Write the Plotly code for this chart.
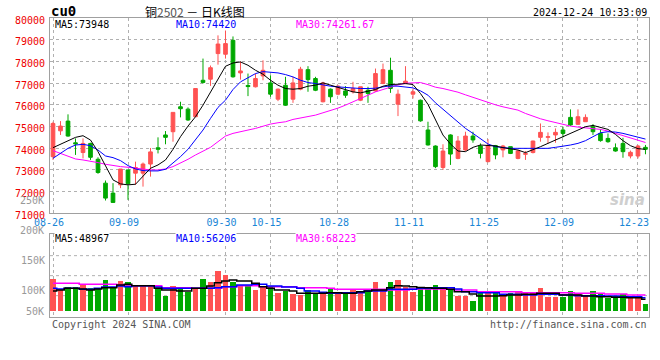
import pandas as pd
import plotly.graph_objects as go

# ---------------- data ----------------
HOLIDAYS = ["2024-09-16", "2024-09-17", "2024-10-01", "2024-10-02", "2024-10-03",
            "2024-10-04", "2024-10-07"]
dates = [d.strftime("%Y-%m-%d") for d in pd.bdate_range("2024-08-26", "2024-12-24")
         if d.strftime("%Y-%m-%d") not in HOLIDAYS]

OPEN = [73610, 74800, 75250, 74250, 73800, 74220, 73490, 72390, 71930, 72310,
        73000, 72850, 72850, 73270, 74020, 74610, 74760, 75910, 75800, 75450,
        77130, 77180, 78360, 78330, 78970, 77470, 76890, 76830, 77330, 77010,
        76260, 76900, 76260, 76720, 77620, 77210, 76140, 76720, 76490, 76640,
        76600, 76210, 76670, 76640, 76980, 77590, 76030, 76980, 76490, 76210,
        74840, 74100, 73110, 74610, 73530, 73920, 74560, 74100, 73380, 74120,
        73920, 74070, 73530, 73720, 73800, 74500, 74500, 74610, 74840, 75420,
        75100, 75220, 74990, 74680, 74450, 74020, 74220, 73640, 73640, 74040]
HIGH = [75220, 75250, 75560, 74450, 74450, 74250, 73580, 72510, 72390, 73040,
        73000, 73380, 73340, 74010, 74500, 74790, 75650, 76140, 75880, 76750,
        78130, 77810, 79200, 79460, 79150, 78000, 77440, 77440, 78050, 77360,
        76750, 77290, 77290, 77750, 77780, 77290, 77060, 76750, 76900, 76860,
        77060, 76830, 76830, 77670, 77900, 78170, 76700, 77780, 76750, 76240,
        75220, 74130, 74180, 74640, 74560, 74760, 74760, 74220, 74420, 74150,
        74150, 74070, 73920, 73870, 74350, 75140, 74730, 74910, 74990, 75790,
        75790, 75560, 75110, 74870, 74680, 74220, 74480, 73890, 74150, 74150]
LOW = [73460, 74610, 74530, 73690, 73530, 73460, 72820, 71590, 71500, 72160,
       71620, 72310, 72230, 72690, 73760, 74180, 74300, 75420, 75260, 75450,
       76980, 76870, 77850, 78130, 77250, 77160, 76400, 76800, 77130, 76370,
       76170, 75950, 76090, 76670, 76600, 76630, 76110, 76090, 76440, 76320,
       76520, 76170, 76090, 76600, 76950, 76550, 75480, 76950, 76290, 75220,
       74120, 73080, 73000, 73230, 73490, 73870, 74250, 73530, 73350, 73490,
       73580, 73730, 73490, 73460, 73760, 74300, 74220, 74250, 74500, 75020,
       75070, 75220, 74610, 74300, 74250, 73840, 73560, 73530, 73530, 73720]
CLOSE = [75140, 75020, 74560, 74200, 74220, 73580, 72880, 71700, 71500, 73040,
         72360, 73110, 73270, 73830, 73950, 74500, 75650, 75820, 75300, 76750,
         77030, 77710, 78800, 78820, 77290, 77560, 76840, 77210, 77590, 76490,
         76720, 75980, 77010, 77640, 77160, 76670, 77010, 76370, 76860, 76440,
         76750, 76830, 76520, 77440, 77620, 76750, 76490, 77090, 76600, 75260,
         74150, 73150, 73870, 73730, 74330, 74560, 74380, 73760, 74120, 73690,
         74100, 73760, 73870, 73750, 74330, 74730, 74530, 74730, 74680, 75070,
         75450, 75420, 74760, 74350, 74300, 73870, 73840, 73810, 74100, 73950]

MA5 = [74024, 74193, 74346, 74499, 74576, 74376, 73840, 73152, 72539, 72355,
       72310, 72340, 72692, 73075, 73228, 73458, 73948, 74530, 75019, 75448,
       75984, 76596, 77180, 77775, 77928, 77974, 77821, 77592, 77408, 77132,
       76903, 76750, 76719, 76750, 76857, 76903, 77010, 76903, 76780, 76673,
       76596, 76550, 76627, 76704, 76857, 76933, 76948, 76979, 76933, 76520,
       76020, 75295, 74606, 74193, 73871, 73840, 74040, 74147, 74132, 74101,
       74024, 73979, 73917, 73795, 73917, 74070, 74223, 74376, 74530, 74683,
       74836, 74989, 75050, 74958, 74867, 74637, 74346, 74116, 73979, 73948]
MA10 = [73534, 73764, 73994, 74147, 74177, 74116, 73917, 73642, 73565, 73427,
        73198, 73044, 72968, 72953, 72953, 73029, 73305, 73611, 73948, 74376,
        74836, 75372, 75880, 76214, 76704, 77056, 77255, 77438, 77530, 77515,
        77469, 77392, 77285, 77132, 77025, 76979, 76903, 76857, 76826, 76796,
        76765, 76750, 76750, 76765, 76826, 76872, 76857, 76826, 76780, 76642,
        76443, 76091, 75785, 75479, 75173, 74912, 74683, 74438, 74193, 74070,
        74024, 73994, 73994, 73994, 73994, 73994, 73994, 74040, 74086, 74147,
        74223, 74346, 74530, 74713, 74759, 74744, 74683, 74606, 74530, 74420]
MA30 = [73887, 73764, 73611, 73504, 73458, 73412, 73335, 73259, 73198, 73152,
        73121, 73075, 73029, 72998, 72998, 73044, 73152, 73305, 73488, 73687,
        73871, 74040, 74300, 74560, 74683, 74774, 74836, 74912, 75019, 75111,
        75173, 75218, 75326, 75387, 75448, 75525, 75632, 75724, 75846, 75984,
        76137, 76260, 76443, 76596, 76704, 76826, 76918, 76994, 77025, 77025,
        76930, 76811, 76750, 76673, 76581, 76459, 76336, 76214, 76122, 76000,
        75907, 75816, 75754, 75601, 75463, 75356, 75264, 75173, 75096, 75019,
        74973, 74943, 74912, 74867, 74790, 74683, 74560, 74453, 74376, 74262]

VOLUME = [119200, 100800, 105800, 105800, 108600, 103600, 103600, 117500, 104700, 115800,
          113600, 108000, 108000, 108000, 102500, 90800, 106900, 103600, 98000, 103600,
          119200, 113600, 132500, 125800, 113600, 106900, 106900, 100800, 106900, 106900,
          95800, 99200, 93600, 92500, 100300, 94200, 97000, 102500, 95300, 95300,
          100800, 98000, 99200, 114700, 100800, 114700, 117500, 106400, 98000, 106400,
          106400, 109200, 104700, 100800, 91400, 91400, 82500, 95300, 98000, 95300,
          94200, 95300, 98000, 98000, 96400, 104700, 89700, 89700, 89700, 99200,
          94700, 90800, 99200, 93600, 88000, 91400, 93600, 89700, 87000, 78000]
VMA5 = [99200, 100800, 103600, 103600, 102500, 100800, 102500, 104700, 104700, 109200,
        110300, 108000, 108000, 108000, 103600, 100800, 100800, 99200, 99200, 103600,
        103600, 107500, 113000, 115800, 117500, 115800, 115800, 112000, 106400, 103600,
        100800, 100800, 99200, 95300, 95300, 95300, 95300, 96400, 96400, 95300,
        95300, 98000, 99200, 100800, 100800, 104700, 108000, 107500, 106400, 105200,
        104700, 103600, 103600, 101900, 98000, 98000, 94200, 90800, 90800, 90800,
        91400, 92500, 92500, 93600, 93600, 95300, 95300, 95300, 92500, 92500,
        92500, 90800, 90800, 89700, 89700, 88600, 88600, 88000, 88000, 85300]
VMA10 = [103600, 102500, 103600, 103600, 101900, 101900, 103600, 105800, 105800, 107500,
         106400, 108000, 108000, 108000, 105800, 103600, 103600, 103600, 103600, 103600,
         103600, 103600, 104700, 106400, 106400, 109200, 109200, 110300, 110300, 107500,
         107500, 105800, 105800, 103600, 99200, 99200, 96900, 95300, 95300, 96400,
         96400, 96400, 99200, 99200, 99200, 101900, 101900, 101900, 101900, 103600,
         103600, 104700, 104700, 104700, 102500, 98000, 98000, 96400, 96400, 96400,
         93600, 93600, 93600, 92500, 92500, 93600, 93600, 93600, 92500, 92500,
         91400, 91400, 91400, 91400, 90800, 90800, 89700, 89700, 89700, 88000]
VMA30 = [112000, 112000, 112000, 112000, 110300, 110300, 110300, 110300, 110300, 109200,
         109200, 108000, 108000, 108000, 108000, 104700, 104700, 104700, 104700, 103600,
         103600, 103600, 103600, 106400, 106400, 108000, 108000, 108000, 106400, 106400,
         106400, 106400, 106400, 104700, 104700, 104700, 104700, 103600, 101900, 101900,
         101900, 101900, 101900, 101900, 101900, 100800, 100800, 100800, 102500, 102500,
         102500, 102500, 102500, 102500, 100800, 100800, 100800, 98000, 98000, 98000,
         98000, 98000, 98000, 96400, 96400, 96400, 96400, 96400, 96400, 96400,
         95300, 95300, 95300, 95300, 94200, 94200, 94200, 92500, 92500, 92500]

TICK_DATES = ["2024-08-26", "2024-09-09", "2024-09-30", "2024-10-15", "2024-10-28",
              "2024-11-11", "2024-11-25", "2024-12-09", "2024-12-23"]
TICK_TEXT = [d[5:] for d in TICK_DATES]
PRICE_TICKS = list(range(71000, 80001, 1000))
VOL_TICKS = [100000, 150000]
VOL_TICK_TEXT = ["100K", "150K"]
VOL_EXTRA_TICKS = [250000, 200000]
VOL_EXTRA_TEXT = ["250K", "200K"]
VOL_BASE = 65800
VOL_RANGE = [55830, 194170]

MA_LABELS = ["MA5:73948", "MA10:74420", "MA30:74261.67"]
VMA_LABELS = ["MA5:48967", "MA10:56206", "MA30:68223"]

# ---------------- style ----------------
RED = "#ff5252"
GREEN = "#00a800"
GRID = "#b0b0b0"
BORDER = "#a0a0a0"
MONO = "DejaVu Sans Mono"
MA_COLORS = ["#000000", "#0000ff", "#ff00ff"]

W, H = 660, 360
L, R, T, B = 50, 649, 18, 317
VOL_TOP = 234


def px(x):
    return (x - L) / (R - L)


def py(y):
    return (B - y) / (B - T)


fig = go.Figure()

fig.add_trace(go.Candlestick(
    x=dates, open=OPEN, high=HIGH, low=LOW, close=CLOSE,
    increasing=dict(line=dict(color=RED, width=1), fillcolor=RED),
    decreasing=dict(line=dict(color=GREEN, width=1), fillcolor=GREEN),
    whiskerwidth=0, xaxis="x", yaxis="y", showlegend=False, hoverinfo="skip"))

for vals, col in zip([MA30, MA10, MA5], [MA_COLORS[2], MA_COLORS[1], MA_COLORS[0]]):
    fig.add_trace(go.Scatter(x=dates, y=vals, mode="lines", line=dict(color=col, width=1),
                             xaxis="x", yaxis="y", showlegend=False, hoverinfo="skip"))

vol_colors = [RED if c >= o else GREEN for o, c in zip(OPEN, CLOSE)]
fig.add_trace(go.Bar(x=dates, y=[v - VOL_BASE for v in VOLUME], base=VOL_BASE,
                     marker=dict(color=vol_colors, line=dict(width=0)), width=0.76,
                     xaxis="x2", yaxis="y2", showlegend=False, hoverinfo="skip"))

for vals, col in zip([VMA30, VMA10, VMA5], [MA_COLORS[2], MA_COLORS[1], MA_COLORS[0]]):
    fig.add_trace(go.Scatter(x=dates, y=vals, mode="lines", line=dict(color=col, width=1.5, shape="hvh"),
                             xaxis="x2", yaxis="y2", showlegend=False, hoverinfo="skip"))

xr = [-0.4, len(dates) - 1 + 0.47]
common_x = dict(type="category", categoryorder="array", categoryarray=dates, range=xr,
                tickmode="array", tickvals=TICK_DATES, ticktext=TICK_TEXT,
                showgrid=True, gridcolor=GRID, griddash="dot", gridwidth=1,
                showline=True, linecolor=BORDER, linewidth=1, mirror=True,
                ticks="", zeroline=False, fixedrange=True)

fig.update_layout(
    width=W, height=H,
    margin=dict(l=L, r=W - R, t=T, b=H - B, pad=0),
    paper_bgcolor="white", plot_bgcolor="white",
    hovermode=False, bargap=0,
    xaxis=dict(common_x, domain=[0, 1], anchor="y", rangeslider=dict(visible=False),
               showticklabels=True, ticklabelshift=-4,
               tickfont=dict(family=MONO, size=10, color="#1a86d6")),
    yaxis=dict(domain=[py(213.3), 1], range=[71000, 80000], anchor="x",
               tickmode="array", tickvals=PRICE_TICKS, ticktext=[str(v) for v in PRICE_TICKS],
               tickfont=dict(family=MONO, size=10, color="#ee0000"),
               ticklabelshift=2, ticklabelstandoff=2,
               showgrid=True, gridcolor=GRID, griddash="dot", gridwidth=1,
               showline=True, linecolor=BORDER, linewidth=1, mirror=True,
               ticks="", zeroline=False, fixedrange=True),
    xaxis2=dict(common_x, domain=[0, 1], anchor="y2", showticklabels=False,
                rangeslider=dict(visible=False)),
    yaxis2=dict(domain=[0, py(VOL_TOP)], range=VOL_RANGE, anchor="x2",
                tickmode="array", tickvals=VOL_TICKS, ticktext=VOL_TICK_TEXT,
                tickfont=dict(family=MONO, size=10, color="#999999"),
                ticklabelstandoff=2,
                showgrid=False, showline=True, linecolor=BORDER, linewidth=1, mirror=True,
                ticks="", zeroline=False, fixedrange=True),
)

# volume panel horizontal dotted grid (evenly spaced, as in the original)
for f in [0.257, 0.498, 0.739]:
    fig.add_shape(type="line", xref="x2 domain", yref="y2 domain", x0=0, x1=1, y0=f, y1=f,
                  line=dict(color=GRID, width=1, dash="dot"), layer="below")

ann = []


def text(s, x, y, color="#000000", size=10, xanchor="left", family=MONO, bg=None, **kw):
    d = dict(text=s, x=px(x), y=py(y), xref="paper", yref="paper", showarrow=False,
             xanchor=xanchor, yanchor="middle", font=dict(family=family, size=size, color=color))
    if bg:
        d["bgcolor"] = bg
        d["borderpad"] = 0
    d.update(kw)
    ann.append(d)


# header
text("<b>cu0</b>", 49, 11, size=14)
text("铜<span style='color:#555555'>2502</span> － 日K线图", 195, 11, size=12,
     xanchor="center", family="Noto Sans CJK SC")
text("2024-12-24 10:33:09", 649, 12, xanchor="right")

# MA labels
for s, c, x in zip(MA_LABELS, MA_COLORS, [54, 175, 295]):
    text(s, x, 24.5, color=c, bg="white")
for s, c, x in zip(VMA_LABELS, MA_COLORS, [54, 175, 295]):
    text(s, x, 239, color=c, bg="white")

# volume-scale labels that sit above the panel (mapped through the volume scale)
vol_frac_top = py(VOL_TOP)
for v, lab in zip(VOL_EXTRA_TICKS, VOL_EXTRA_TEXT):
    yfrac = (v - VOL_RANGE[0]) / (VOL_RANGE[1] - VOL_RANGE[0]) * vol_frac_top
    ann.append(dict(text=lab, x=0, xref="paper", y=yfrac, yref="paper", xanchor="right",
                    yanchor="middle", xshift=-4, showarrow=False,
                    font=dict(family=MONO, size=10, color="#999999")))
# bottom label, clamped at the bar baseline
ann.append(dict(text="50K", x=0, xref="x2 domain", y=VOL_BASE, yref="y2", xanchor="right",
                yanchor="middle", xshift=-4, showarrow=False,
                font=dict(family=MONO, size=10, color="#999999")))

# footer
text("Copyright 2024 SINA.COM", 50, 324, color="#555555")
text("http://finance.sina.com.cn", 649, 324, color="#555555", xanchor="right")

# watermark
text("<i><b>sina</b></i>", 647, 200, color="#cfcfcf", size=15, xanchor="right",
     family="DejaVu Sans")

fig.update_layout(annotations=ann)

fig.write_html("out.html", config={"displayModeBar": False},
               post_script="document.body.style.margin='0px';")
